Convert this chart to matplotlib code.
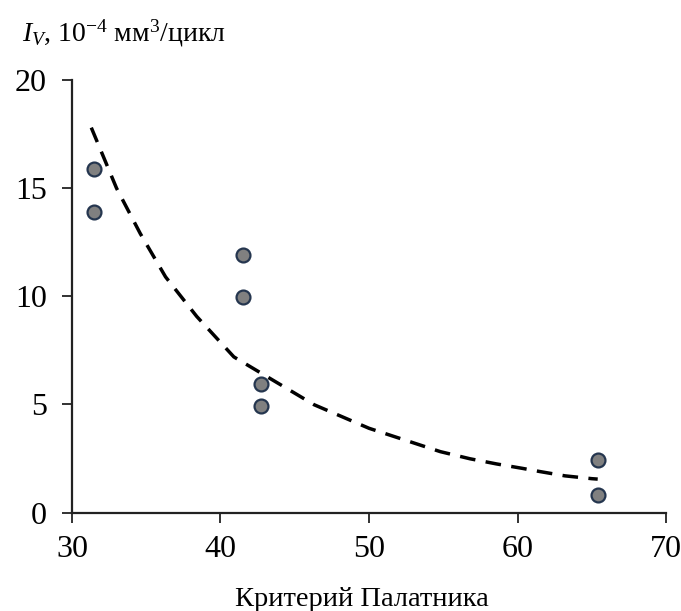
import numpy as np
import matplotlib
matplotlib.use('Agg')
import matplotlib.pyplot as plt

# measured points
crit = [31.5, 31.5, 41.5, 41.5, 42.7, 42.7, 65.4, 65.4]
wear = [15.9, 13.9, 11.9, 9.95, 5.95, 4.95, 2.45, 0.8]

# trend line
trend_x = [31.3, 33.0, 34.6, 36.3, 38.4, 40.9, 43.1, 46.3, 50.0, 54.8, 56.8, 58.6, 60.3, 61.5, 63.2, 65.0, 65.4]
trend_y = [17.8, 15.0, 12.9, 10.9, 9.07, 7.2, 6.3, 4.99, 3.9, 2.82, 2.49, 2.25, 2.05, 1.9, 1.7, 1.57, 1.55]

xticks = [30, 40, 50, 60, 70]
yticks = [0, 5, 10, 15, 20]

plt.rcParams['font.family'] = ['Liberation Serif', 'DejaVu Serif']
plt.rcParams['mathtext.fontset'] = 'custom'
plt.rcParams['mathtext.rm'] = 'Liberation Serif'
plt.rcParams['mathtext.it'] = 'Liberation Serif:italic'

fig = plt.figure(figsize=(6.81, 6.11), dpi=100)
ax = fig.add_axes([0.1057, 0.161, 0.8723, 0.708])

ax.plot(trend_x, trend_y, color='black', lw=2.5, ls=(0, (4.5, 3)))
ax.plot(crit, wear, 'o', ms=10, mfc='#808080', mec='#25364f', mew=1.6, ls='none')

ax.set_xlim(30, 70)
ax.set_ylim(0, 20)
ax.set_xticks(xticks)
ax.set_yticks(yticks)
ax.spines['top'].set_visible(False)
ax.spines['right'].set_visible(False)
for s in ['left', 'bottom']:
    ax.spines[s].set_linewidth(1.6)
    ax.spines[s].set_color('#222222')
ax.tick_params(direction='out', length=7, width=1.3, labelsize=23, color='#222222')
ax.tick_params(axis='y', pad=11)
ax.tick_params(axis='x', pad=9)

fig.text(0.032, 0.932, r'$I_V$, 10$^{\mathregular{-4}}$ мм$^{\mathregular{3}}$/цикл', fontsize=20, ha='left', va='baseline')
fig.text(0.531, 0.0075, 'Критерий Палатника', fontsize=20.5, ha='center', va='baseline')

plt.savefig('out.png', dpi=100)
